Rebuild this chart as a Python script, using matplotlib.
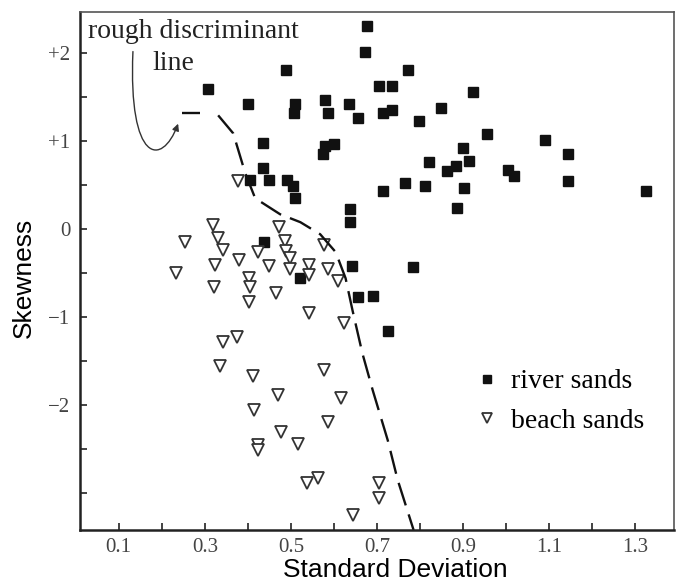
import matplotlib
matplotlib.use("Agg")
import matplotlib.pyplot as plt
from matplotlib.path import Path
from matplotlib.patches import FancyArrowPatch

# river sands (standard deviation, skewness)
river_sd = [0.307, 0.401, 0.489, 0.510, 0.508, 0.580, 0.585, 0.436, 0.580, 0.599,
            0.575, 0.436, 0.405, 0.450, 0.492, 0.506, 0.510, 0.676, 0.671, 0.771,
            0.704, 0.736, 0.923, 0.634, 0.655, 0.715, 0.734, 0.848, 0.797, 0.955,
            1.091, 1.144, 0.900, 0.914, 0.820, 0.862, 0.883, 1.004, 1.018, 1.144,
            0.715, 0.764, 0.811, 0.902, 1.324, 0.638, 0.638, 0.438, 0.643, 0.522,
            0.657, 0.690, 0.725, 0.886, 0.783]
river_sk = [1.59, 1.42, 1.81, 1.42, 1.32, 1.47, 1.32, 0.98, 0.95, 0.97,
            0.85, 0.70, 0.56, 0.56, 0.56, 0.49, 0.35, 2.31, 2.02, 1.81,
            1.63, 1.63, 1.56, 1.42, 1.27, 1.32, 1.35, 1.38, 1.23, 1.08,
            1.02, 0.85, 0.92, 0.78, 0.76, 0.66, 0.72, 0.67, 0.60, 0.55,
            0.44, 0.52, 0.49, 0.47, 0.43, 0.23, 0.08, -0.14, -0.42, -0.55,
            -0.77, -0.76, -1.16, 0.24, -0.43]

# beach sands
beach_sd = [0.319, 0.473, 0.254, 0.331, 0.342, 0.487, 0.489, 0.499, 0.424, 0.576,
            0.380, 0.324, 0.450, 0.499, 0.543, 0.541, 0.585, 0.610, 0.233, 0.321,
            0.403, 0.405, 0.403, 0.466, 0.541, 0.624, 0.342, 0.375, 0.335, 0.412,
            0.578, 0.471, 0.617, 0.415, 0.585, 0.478, 0.424, 0.424, 0.517, 0.538,
            0.564, 0.704, 0.704, 0.645, 0.377]
beach_sk = [0.05, 0.03, -0.15, -0.10, -0.24, -0.13, -0.25, -0.33, -0.26, -0.18,
            -0.35, -0.41, -0.42, -0.45, -0.41, -0.52, -0.45, -0.59, -0.50, -0.66,
            -0.56, -0.66, -0.83, -0.72, -0.95, -1.07, -1.28, -1.23, -1.56, -1.67,
            -1.60, -1.89, -1.92, -2.05, -2.19, -2.31, -2.45, -2.51, -2.44, -2.88,
            -2.83, -2.89, -3.06, -3.25, 0.55]

# rough discriminant line (None = break between the flat top piece and the rest)
line_sd = [0.247, 0.289, None, 0.331, 0.366, 0.394, 0.417, 0.475, 0.522,
           0.568, 0.604, 0.627, 0.643, 0.666, 0.690, 0.725, 0.748, 0.785]
line_sk = [1.318, 1.318, None, 1.295, 1.09, 0.636, 0.352, 0.17, 0.08,
           -0.057, -0.26, -0.557, -0.92, -1.41, -1.83, -2.40, -2.85, -3.42]

x_major = [0.1, 0.3, 0.5, 0.7, 0.9, 1.1, 1.3]
x_labels = ["0.1", "0.3", "0.5", "0.7", "0.9", "1.1", "1.3"]
x_minor = [0.2, 0.4, 0.6, 0.8, 1.0, 1.2]
y_major = [2, 1, 0, -1, -2]
y_labels = ["+2", "+1", "0", "\u22121", "\u22122"]
y_minor = [1.5, 0.5, -0.5, -1.5, -2.5, -3.0]

serif = ["Liberation Serif", "DejaVu Serif"]
sans = ["Liberation Sans", "DejaVu Sans"]

fig = plt.figure(figsize=(6.76, 5.84), dpi=100)
ax = fig.add_axes([80 / 676, 54 / 584, 594 / 676, 518 / 584])

ax.plot(river_sd, river_sk, ls="none", marker="s", ms=6.5, color="#111111",
        mec="#111111", label="river sands")
ax.plot(beach_sd, beach_sk, ls="none", marker="v", ms=8.5, mfc="white",
        mec="#333333", mew=1.3, label="beach sands")

# split line segments at None
seg_x, seg_y = [], []
for xv, yv in zip(line_sd + [None], line_sk + [None]):
    if xv is None:
        ax.plot(seg_x, seg_y, color="#111111", lw=1.7, ls=(0, (10, 4)))
        seg_x, seg_y = [], []
    else:
        seg_x.append(xv)
        seg_y.append(yv)

ax.set_xlim(0.01, 1.39)
ax.set_ylim(-3.42, 2.47)
ax.set_xticks(x_major)
ax.set_xticklabels(x_labels, family=serif, fontsize=15, color="#444444")
ax.set_xticks(x_minor, minor=True)
ax.set_yticks(y_major)
ax.set_yticklabels(y_labels, family=serif, fontsize=15, color="#444444")
ax.set_yticks(y_minor, minor=True)
ax.tick_params(which="both", direction="in", length=5, width=1.2, color="#222222")
ax.tick_params(axis="x", pad=6)
ax.tick_params(axis="y", pad=7)
for side in ["left", "bottom"]:
    ax.spines[side].set_linewidth(1.8)
    ax.spines[side].set_color("#222222")
for side in ["top", "right"]:
    ax.spines[side].set_linewidth(1.2)
    ax.spines[side].set_color("#555555")

ax.set_xlabel("Standard Deviation", family=sans, fontsize=19)
ax.set_ylabel("Skewness", family=sans, fontsize=19)
ax.xaxis.set_label_coords(0.53, -0.055)
ax.yaxis.set_label_coords(-0.074, 0.487)

ax.text(0.028, 2.17, "rough discriminant", family=serif, fontsize=20,
        va="baseline", color="#222222")
ax.text(0.179, 1.81, "line", family=serif, fontsize=20, va="baseline",
        color="#222222")

arrow_path = Path([(0.133, 2.02), (0.122, 0.75), (0.20, 0.70), (0.238, 1.20)],
                  [Path.MOVETO, Path.CURVE4, Path.CURVE4, Path.CURVE4])
ax.add_patch(FancyArrowPatch(path=arrow_path, arrowstyle="-|>", mutation_scale=10,
                             lw=1.0, color="#333333"))

ax.legend(loc="upper left", bbox_to_anchor=(0.662, 0.311), frameon=False,
          prop={"family": serif, "size": 20}, handlelength=1.0,
          handletextpad=0.35, labelspacing=0.5, borderpad=0, borderaxespad=0,
          markerscale=0.85)

fig.savefig("out.png", dpi=100)
